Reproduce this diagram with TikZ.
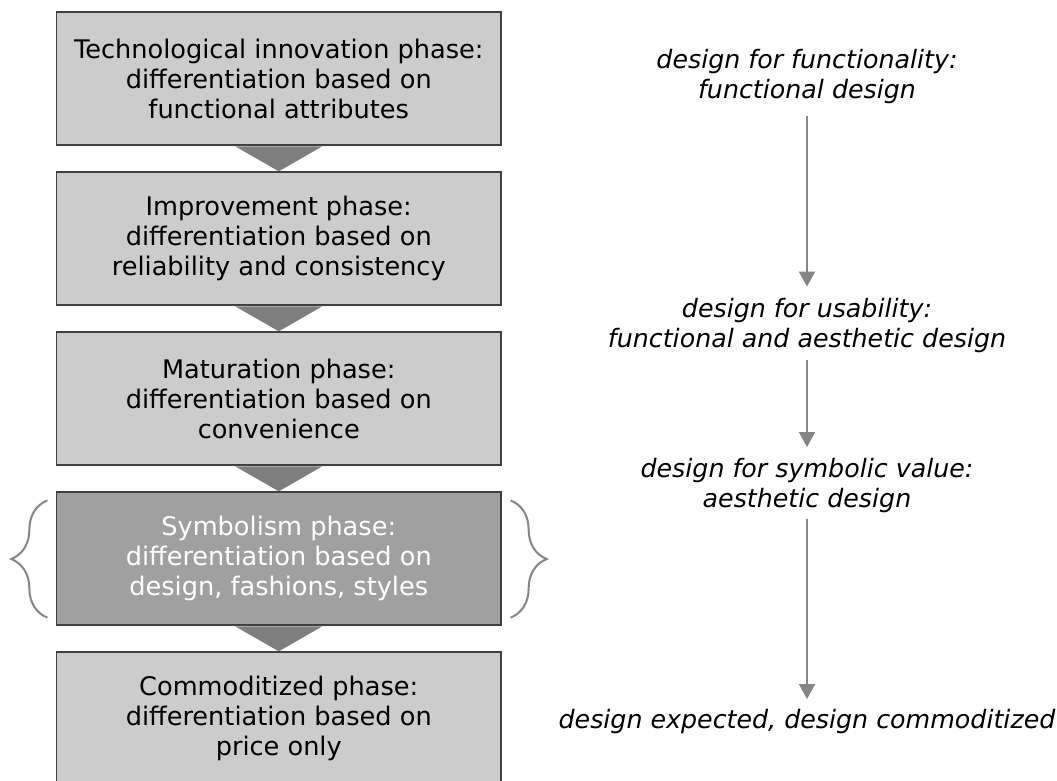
\documentclass[tikz,border=0pt]{standalone}
\usepackage{fontspec}
\setmainfont{DejaVu Sans}
\usepackage{xcolor}
\usepackage{tikz}
\usetikzlibrary{calc}
\usetikzlibrary{arrows.meta}
\usetikzlibrary{decorations.pathreplacing}
\definecolor{boxgray}{HTML}{CCCCCC}
\definecolor{symbgray}{HTML}{A0A0A0}
\definecolor{edgegray}{HTML}{404040}
\definecolor{linegray}{HTML}{868686}
\definecolor{wedgegray}{HTML}{7F7F7F}
\def\phasewedge(#1)(#2){\fill[wedgegray] ($(#1.south)+(-43.5,0.7)$) -- ($(#1.south)+(43.5,0.7)$) -- (#2.north) -- cycle}

\begin{document}
\begin{tikzpicture}[x=1pt,y=-1pt,
        phase/.style={draw=edgegray,line width=1.3pt,fill=boxgray,minimum width=444.5pt,minimum height=133pt,inner sep=0pt,align=center,font=\fontsize{25.6}{30}\selectfont},
        stage/.style={inner sep=0pt,align=center,font=\fontsize{25.3}{30}\selectfont\itshape},
        flow/.style={draw=linegray,line width=2pt,-{Triangle[width=16pt,length=15pt]}},
        bracket/.style={draw=linegray,line width=2pt,decorate,decoration={brace,amplitude=36pt}}]
        \path[use as bounding box,fill=white] (0,0) rectangle (1057,780);

        %%% COORDINATES %%%
        \draw (278.75,78.5) coordinate (p1);
        \draw (278.75,238.5) coordinate (p2);
        \draw (278.75,398.5) coordinate (p3);
        \draw (278.75,558.5) coordinate (p4);
        \draw (278.75,718.5) coordinate (p5);

        %%% PHASES %%%
        \node[phase] (tech) at (p1) {Technological innovation phase:\\differentiation based on\\functional attributes};
        \node[phase] (impr) at (p2) {Improvement phase:\\differentiation based on\\reliability and consistency};
        \node[phase] (matu) at (p3) {Maturation phase:\\differentiation based on\\convenience};
        \node[phase,fill=symbgray,text=white] (symb) at (p4) {Symbolism phase:\\differentiation based on\\design, fashions, styles};
        \node[phase] (comm) at (p5) {Commoditized phase:\\differentiation based on\\price only};

        \phasewedge(tech)(impr);
        \phasewedge(impr)(matu);
        \phasewedge(matu)(symb);
        \phasewedge(symb)(comm);

        %%% BRACES %%%
        \draw[bracket] ($(symb.south west)+(-8.5,-8)$) -- ($(symb.north west)+(-8.5,9)$);
        \draw[bracket] ($(symb.north east)+(9,9)$) -- ($(symb.south east)+(9,-8)$);

        %%% DESIGN STAGES %%%
        \node[stage] (func) at (807,76.5) {design for functionality:\\functional design};
        \node[stage] (usab) at (807,326) {design for usability:\\functional and aesthetic design};
        \node[stage] (symv) at (807,485.5) {design for symbolic value:\\aesthetic design};
        \node[stage] (expe) at (807,721.5) {design expected, design commoditized};

        \draw[flow,shorten <=12pt,shorten >=12pt] (func) -- (usab);
        \draw[flow,shorten <=7pt,shorten >=11pt] (usab) -- (symv);
        \draw[flow,shorten <=6pt,shorten >=10pt] (symv) -- (expe);
    \end{tikzpicture}
\end{document}
